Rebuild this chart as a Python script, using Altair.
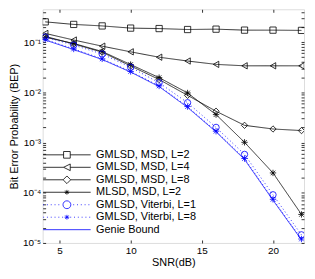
import altair as alt
import pandas as pd

# ---------------- data ----------------
snr = [4, 6, 8, 10, 12, 14, 16, 18, 20, 22]
series_names = [
    "GMLSD, MSD, L=2",
    "GMLSD, MSD, L=4",
    "GMLSD, MSD, L=8",
    "MLSD, MSD, L=2",
    "GMLSD, Viterbi, L=1",
    "GMLSD, Viterbi, L=8",
    "Genie Bound",
]
bep_gmlsd_msd_l2 = [0.253, 0.225, 0.21, 0.19, 0.186, 0.178, 0.181, 0.173, 0.173, 0.171]
bep_gmlsd_msd_l4 = [0.149, 0.11, 0.083, 0.064, 0.050, 0.042, 0.036, 0.0337, 0.0337, 0.0337]
bep_gmlsd_msd_l8 = [0.130, 0.092, 0.063, 0.0335, 0.018, 0.0087, 0.0042, 0.0022, 0.00186, 0.00173]
bep_mlsd_msd_l2 = [0.125, 0.094, 0.065, 0.0357, 0.0196, 0.0097, 0.0036, 0.00101, 0.000248, 0.000037]
bep_viterbi_l1 = [0.126, 0.087, 0.058, 0.0315, 0.0155, 0.0062, 0.0020, 0.00058, 0.000091, 0.0000145]
bep_viterbi_l8 = [0.113, 0.073, 0.0464, 0.026, 0.0134, 0.0052, 0.00168, 0.00048, 0.000074, 0.000012]
bep_genie = [0.110, 0.071, 0.045, 0.0253, 0.0130, 0.0050, 0.00163, 0.00046, 0.000071, 0.0000115]

x_tick_values = [5, 10, 15, 20]
y_decades = [1e-5, 1e-4, 1e-3, 1e-2, 1e-1]
y_minor_mult = [2, 3, 4, 5, 6, 7, 8, 9]

all_series = [bep_gmlsd_msd_l2, bep_gmlsd_msd_l4, bep_gmlsd_msd_l8, bep_mlsd_msd_l2,
              bep_viterbi_l1, bep_viterbi_l8, bep_genie]
rows = []
for name, vals in zip(series_names, all_series):
    for s, v in zip(snr, vals):
        rows.append({"snr": s, "bep": v, "series": name})
df = pd.DataFrame(rows)

y_ticks = []
for d in y_decades:
    y_ticks.append(d)
    for mm in y_minor_mult:
        if d * mm < 0.45:
            y_ticks.append(d * mm)

# ---------------- styles ----------------
FONT = "Liberation Sans"
BLACK = "#000000"
BLUE = "#0000ff"
ASTER = "M0,-1V1M-1,0H1M-0.72,-0.72L0.72,0.72M-0.72,0.72L0.72,-0.72"

color_scale = alt.Scale(domain=series_names, range=[BLACK] * 4 + [BLUE] * 3)
dash_scale = alt.Scale(domain=series_names,
                       range=[[1, 0]] * 4 + [[1, 2.5], [1, 2.5], [1, 0]])
marker_names = series_names[:6]
shape_scale = alt.Scale(domain=marker_names,
                        range=["square", "triangle-left", "diamond", ASTER, "circle", ASTER])
size_scale = alt.Scale(domain=marker_names, range=[40, 42, 52, 26, 56, 26])


# legend symbols: line + marker drawn in one path ([-1,1] box)
def dotted(a, b):
    parts = []
    p = a
    while p < b - 0.01:
        parts.append(f"M{p:.3f},0h0.04")
        p += 0.16
    return "".join(parts)


m = 0.14
sq = f"M-{m},-{m}H{m}V{m}H-{m}Z"
tri = f"M-{m},0L{m},-{m}L{m},{m}Z"
d = 0.16
dia = f"M0,-{d}L{d},0L0,{d}L-{d},0Z"
a = 0.1
a7 = a * 0.72
ast = f"M0,-{a}V{a}M-{a},0H{a}M-{a7:.3f},-{a7:.3f}L{a7:.3f},{a7:.3f}M-{a7:.3f},{a7:.3f}L{a7:.3f},-{a7:.3f}"
r = 0.165
circ = f"M-{r},0A{r},{r} 0 1,0 {r},0A{r},{r} 0 1,0 -{r},0Z"
legend_paths = [
    f"M-1,0H-{m}M{m},0H1" + sq,
    f"M-1,0H-{m}M{m},0H1" + tri,
    f"M-1,0H-{d}M{d},0H1" + dia,
    "M-1,0H1" + ast,
    dotted(-1, -r - 0.05) + dotted(r + 0.1, 1) + circ,
    dotted(-1, -0.1) + dotted(0.14, 1) + ast,
    "M-1,0H1",
]
legend_shape_scale = alt.Scale(domain=series_names, range=legend_paths)

x_scale = alt.Scale(domain=[3.82, 22.18], nice=False, zero=False)
y_scale = alt.Scale(type="log", domain=[1e-5, 0.45], nice=False)

sup = "['⁰','¹','²','³','⁴','⁵','⁶']"
label_expr = ("abs(log(datum.value)/LN10 - round(log(datum.value)/LN10)) < 0.001 ? "
              "'10⁻' + " + sup + "[-round(log(datum.value)/LN10)] : ''")

tick_in = alt.ExprRef("-3")

x_axis_bottom = alt.Axis(orient="bottom", values=x_tick_values, title="SNR(dB)",
                         tickSize=tick_in, labelPadding=6, domain=False, grid=False,
                         labelFlush=False, tickColor=BLACK, tickWidth=0.8,
                         titlePadding=1,
                         titleFontWeight="normal", titleFont=FONT, titleFontSize=11)
y_axis_left = alt.Axis(orient="left", values=y_ticks, labelExpr=label_expr,
                       title="Bit Error Probability (BEP)", tickSize=tick_in,
                       labelPadding=5, domain=False, grid=False, labelOverlap=False,
                       labelFlush=False, labelBound=False, tickColor=BLACK,
                       tickWidth=0.8, titlePadding=3,
                       titleFontWeight="normal", titleFont=FONT, titleFontSize=11)
x_axis_top = alt.Axis(orient="top", values=x_tick_values, title=None, labels=False,
                      tickSize=tick_in, domain=False, grid=False, tickColor=BLACK,
                      tickWidth=0.8)
y_axis_right = alt.Axis(orient="right", values=y_ticks, title=None, labels=False,
                        tickSize=tick_in, domain=False, grid=False, tickColor=BLACK,
                        tickWidth=0.8)

base = alt.Chart(df)

lines = base.mark_line(strokeWidth=0.8, clip=True).encode(
    x=alt.X("snr:Q", scale=x_scale, axis=x_axis_bottom),
    y=alt.Y("bep:Q", scale=y_scale, axis=y_axis_left),
    color=alt.Color("series:N", scale=color_scale, legend=None),
    strokeDash=alt.StrokeDash("series:N", scale=dash_scale, legend=None),
    order="snr:Q",
)

points = base.transform_filter(
    alt.datum.series != "Genie Bound"
).mark_point(filled=False, strokeWidth=0.8, opacity=1, clip=True).encode(
    x=alt.X("snr:Q", scale=x_scale, axis=None),
    y=alt.Y("bep:Q", scale=y_scale, axis=None),
    color=alt.Color("series:N", scale=color_scale, legend=None),
    shape=alt.Shape("series:N", scale=shape_scale, legend=None),
    size=alt.Size("series:N", scale=size_scale, legend=None),
)

legend_props = dict(
    title=None, orient="none", legendX=0, legendY=141,
    labelFont=FONT, labelFontSize=11, labelColor=BLACK,
    symbolSize=2304, clipHeight=12, rowPadding=0.6, padding=0,
    symbolStrokeWidth=0.8, labelOffset=5, symbolFillColor="transparent",
)

legend_layer = base.transform_filter("datum.snr < -1000").mark_point(
    filled=False, opacity=1, strokeWidth=0.8
).encode(
    x=alt.X("snr:Q", scale=x_scale, axis=x_axis_top),
    y=alt.Y("bep:Q", scale=y_scale, axis=y_axis_right),
    color=alt.Color("series:N", scale=color_scale, legend=alt.Legend(**legend_props)),
    shape=alt.Shape("series:N", scale=legend_shape_scale, legend=alt.Legend(**legend_props)),
)

chart = alt.layer(lines, points, legend_layer).resolve_scale(
    color="independent", shape="independent", strokeDash="independent", size="independent"
).resolve_axis(
    x="independent", y="independent"
).properties(
    width=264, height=236,
    padding={"left": 0, "top": -3, "right": 2, "bottom": 0},
).configure_view(
    stroke="#222222", strokeWidth=1
).configure_axis(
    labelFont=FONT, titleFont=FONT, labelFontSize=11, titleFontSize=11,
    labelColor=BLACK, titleColor=BLACK, titleFontWeight="normal",
).configure(background="white")

chart.save("out.html", embed_options={"renderer": "svg", "actions": False})
